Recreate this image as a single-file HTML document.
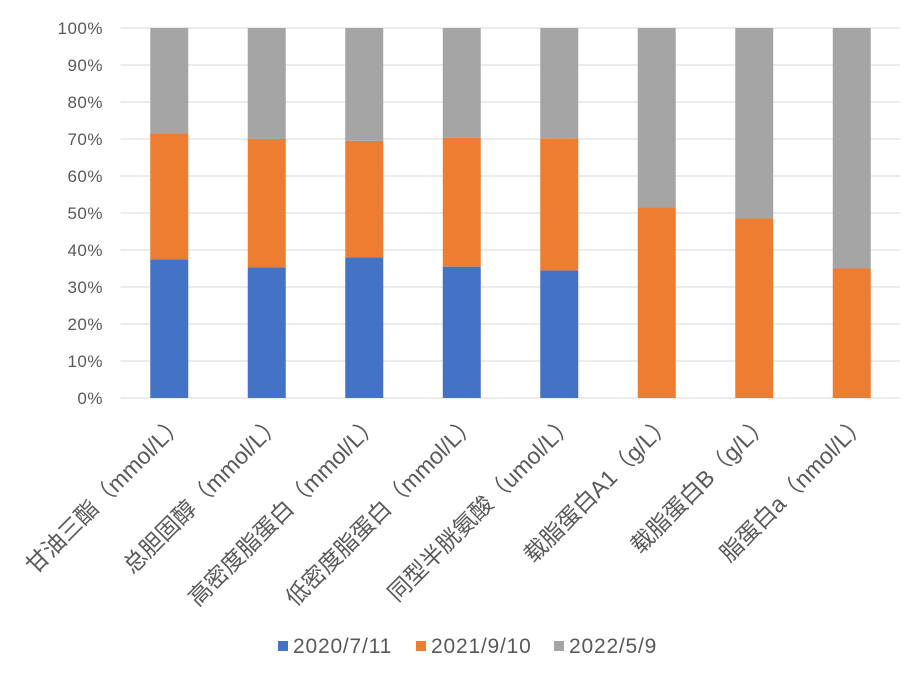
<!DOCTYPE html>
<html><head><meta charset="utf-8"><style>
body{margin:0;background:#fff;}
svg text{font-family:"Liberation Sans","Noto Sans CJK SC",sans-serif;fill:#595959;}
</style></head><body>
<svg id="chart" width="921" height="673" viewBox="0 0 921 673" xmlns="http://www.w3.org/2000/svg">
<g id="grid"></g><g id="bars"></g><g id="xlabels"></g><g id="legend"></g>
</svg>
<script>
const categories=["甘油三酯（mmol/L）","总胆固醇（mmol/L）","高密度脂蛋白（mmol/L）","低密度脂蛋白（mmol/L）","同型半胱氨酸（umol/L）","载脂蛋白A1（g/L）","载脂蛋白B（g/L）","脂蛋白a（nmol/L）"];
const series2020=[37.5,35.3,38,35.5,34.5,0,0,0];
const series2021=[34,34.7,31.5,34.8,35.7,51.5,48.5,35];
const series2022=[28.5,30,30.5,29.7,29.8,48.5,51.5,65];
const seriesNames=["2020/7/11","2021/9/10","2022/5/9"];
const colors=["#4472c4","#ed7d31","#a5a5a5"];
const yTicks=[0,10,20,30,40,50,60,70,80,90,100];
const NS="http://www.w3.org/2000/svg";
const x0=120.5,catW=97.5,barW=38,yBase=398,yTop=28;
const xc=i=>x0+catW*(i+0.5);
const y=v=>yBase-(yBase-yTop)*v/100;
function mk(t,a,p){const e=document.createElementNS(NS,t);for(const k in a)e.setAttribute(k,a[k]);p.appendChild(e);return e;}
const grid=document.getElementById('grid');
yTicks.forEach(v=>{
  const l=mk('line',{x1:x0,x2:x0+catW*8,y1:y(v),y2:y(v),stroke:'#d9d9d9','stroke-width':1},grid);
  
  
  const t=mk('text',{x:103,y:y(v)+6,'text-anchor':'end','font-size':17,'letter-spacing':0.5},grid);
  t.textContent=v+'%';
  
  
});
const bars=document.getElementById('bars');
const all=[series2020,series2021,series2022];
categories.forEach((c,i)=>{
  let acc=0;
  all.forEach((s,k)=>{
    const tot=series2020[i]+series2021[i]+series2022[i];
    const v=s[i]/tot*100;
    if(v>0){
      const r=mk('rect',{x:xc(i)-barW/2,y:y(acc+v),width:barW,height:y(acc)-y(acc+v),fill:colors[k]},bars);
      
      
    }
    acc+=v;
  });
  const t=mk('text',{x:0,y:0,'text-anchor':'end','font-size':23,transform:`translate(${xc(i)+17},${424}) rotate(-45)`},document.getElementById('xlabels'));
  t.textContent=c;
  
  
});
const lg=document.getElementById('legend');
const lx=[278,416,554];
seriesNames.forEach((n,k)=>{
  const r=mk('rect',{x:lx[k],y:641,width:10,height:10,fill:colors[k]},lg);
  
  
  const t=mk('text',{x:lx[k]+15,y:653,'font-size':21,'letter-spacing':0.8},lg);
  t.textContent=n;
  
  
});
</script>
</body></html>
